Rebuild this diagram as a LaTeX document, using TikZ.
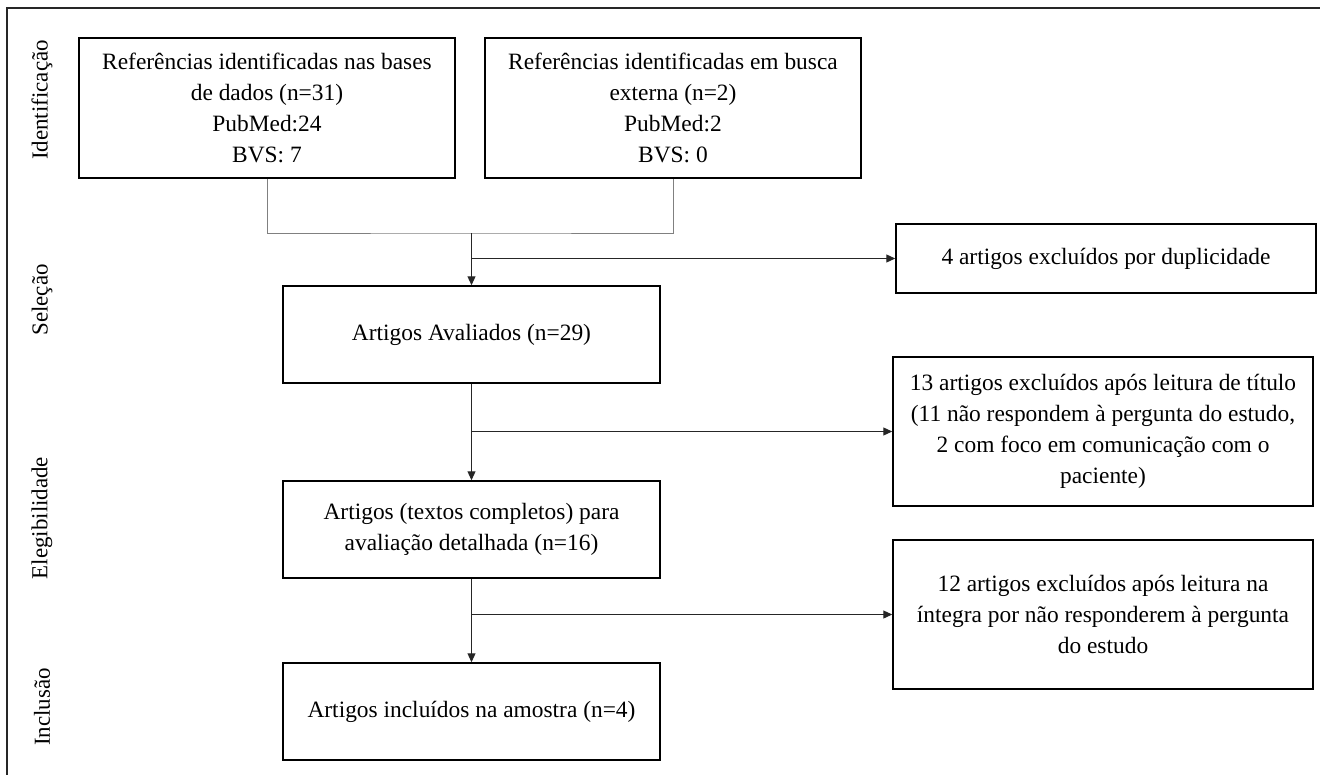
\documentclass[tikz,border=0pt]{standalone}
\usepackage{fontspec}
\setmainfont{Liberation Serif}
\usetikzlibrary{arrows.meta}
\begin{document}
\begin{tikzpicture}[x=1bp,y=-1bp,
  box/.style={draw=black,line width=1.5bp,align=center,inner sep=0pt,
    font=\fontsize{23.5}{31}\selectfont},
  merge/.style={draw=gray,line width=1bp},
  flow/.style={draw=black!85,line width=1.2bp,-{Triangle[length=9bp,width=8bp]}},
  side/.style={font=\fontsize{23}{25}\selectfont,rotate=90,inner sep=0pt}]
\useasboundingbox (0,0) rectangle (1320,774);
% outer frame
\draw[line width=1.5bp,black!85] (7,790) -- (7,8) -- (1330,8);
% phase labels
\node[side] (l1) at (42,100) {Identificação};
\node[side] (l2) at (42,300) {Seleção};
\node[side] (l3) at (42,518) {Elegibilidade};
\node[side] (l4) at (42,707) {Inclusão};
% boxes
\node[box,minimum width=376bp,minimum height=140bp] (b1) at (267,108)
  {Referências identificadas nas bases\\de dados (n=31)\\PubMed:24\\BVS: 7};
\node[box,minimum width=376bp,minimum height=140bp] (b2) at (673,108)
  {Referências identificadas em busca\\externa (n=2)\\PubMed:2\\BVS: 0};
\node[box,minimum width=377bp,minimum height=97bp] (b3) at (471.5,334.5)
  {Artigos Avaliados (n=29)};
\node[box,minimum width=377bp,minimum height=97bp] (b4) at (471.5,529.5)
  {Artigos (textos completos) para\\avaliação detalhada (n=16)};
\node[box,minimum width=377bp,minimum height=97bp] (b5) at (471.5,711.5)
  {Artigos incluídos na amostra (n=4)};
\node[box,minimum width=420bp,minimum height=69bp] (e1) at (1106,258.5)
  {4 artigos excluídos por duplicidade};
\node[box,minimum width=420bp,minimum height=149bp] (e2) at (1103,431.5)
  {13 artigos excluídos após leitura de título\\(11 não respondem à pergunta do estudo,\\2 com foco em comunicação com o\\paciente)};
\node[box,minimum width=420bp,minimum height=149bp] (e3) at (1103,614.5)
  {12 artigos excluídos após leitura na\\íntegra por não responderem à pergunta\\do estudo};
% connectors
\coordinate (m) at (471.5,233);
\draw[merge] (b1.south) |- (m) -| (b2.south);
\draw[flow] (m) -- (b3.north);
\coordinate (s1) at (471.5,258.5);
\draw[flow] (s1) -- (e1.west);
\draw[flow] (b3.south) -- (b4.north);
\coordinate (s2) at (471.5,431.5);
\draw[flow] (s2) -- (e2.west);
\draw[flow] (b4.south) -- (b5.north);
\coordinate (s3) at (471.5,614.5);
\draw[flow] (s3) -- (e3.west);
\end{tikzpicture}
\end{document}
